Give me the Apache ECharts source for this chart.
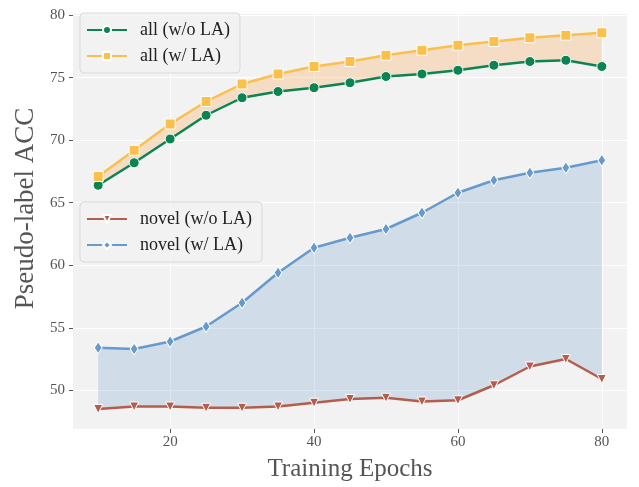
<!DOCTYPE html>
<html>
<head>
<meta charset="utf-8">
<script src="https://cdn.jsdelivr.net/npm/echarts@6/dist/echarts.min.js"></script>
<style>
  html, body { margin: 0; padding: 0; background: #fff; }
  #chart { width: 639px; height: 487px; }
</style>
</head>
<body>
<div id="chart"></div>
<script>
// 训练轮次
const epochs = [10, 15, 20, 25, 30, 35, 40, 45, 50, 55, 60, 65, 70, 75, 80]
const allWo = [66.4, 68.2, 70.1, 72.0, 73.4, 73.9, 74.2, 74.6, 75.1, 75.3, 75.6, 76.0, 76.3, 76.4, 75.9]
const allW = [67.1, 69.2, 71.3, 73.1, 74.5, 75.3, 75.9, 76.3, 76.8, 77.2, 77.6, 77.9, 78.2, 78.4, 78.6]
const novelWo = [48.5, 48.7, 48.7, 48.6, 48.6, 48.7, 49.0, 49.3, 49.4, 49.1, 49.2, 50.4, 51.9, 52.5, 50.9]
const novelW = [53.4, 53.3, 53.9, 55.1, 57.0, 59.4, 61.4, 62.2, 62.9, 64.2, 65.8, 66.8, 67.4, 67.8, 68.4]
const xTicks = [20, 40, 60, 80]
const yTicks = [50, 55, 60, 65, 70, 75, 80]

const pairs = (arr) => arr.map((v, i) => [epochs[i], v])

const font = 'Liberation Serif'
const chart = echarts.init(document.getElementById('chart'))

const lineSeries = (name, data, color, symbol, size, rotate) => ({
  name,
  type: 'line',
  data: pairs(data),
  symbol,
  symbolSize: size,
  symbolRotate: rotate || 0,
  showAllSymbol: true,
  z: 5,
  lineStyle: { color, width: 2.5 },
  itemStyle: { color, borderColor: '#fff', borderWidth: 1 }
})

// 两条线之间的填充带
const band = (hi, lo, color) => ({
  type: 'custom',
  silent: true,
  z: 1,
  clip: true,
  data: [[epochs[0], lo[0]]],
  renderItem: (params, api) => {
    const upper = epochs.map((e, i) => api.coord([e, hi[i]]))
    const lower = epochs.map((e, i) => api.coord([e, lo[i]])).reverse()
    return {
      type: 'polygon',
      shape: { points: upper.concat(lower) },
      style: { fill: color }
    }
  }
})

const legendBase = {
  orient: 'vertical',
  backgroundColor: 'rgba(242,242,242,0.85)',
  borderColor: '#d9d9d9',
  borderWidth: 1,
  borderRadius: 4,
  padding: [8, 10, 8, 6],
  itemWidth: 40,
  itemHeight: 10,
  itemGap: 8,
  textStyle: { fontFamily: font, fontSize: 18, color: '#222', padding: [0, 0, 0, 8] }
}

chart.setOption({
  backgroundColor: '#fff',
  animation: false,
  grid: { left: 73, right: 12, top: 14, bottom: 57, show: true, backgroundColor: '#f2f2f2', borderWidth: 0 },
  legend: [
    Object.assign({}, legendBase, { left: 80, top: 13, data: ['all (w/o LA)', 'all (w/ LA)'] }),
    Object.assign({}, legendBase, { left: 80, top: 202, data: ['novel (w/o LA)', 'novel (w/ LA)'] })
  ],
  xAxis: {
    type: 'value',
    min: 6.5,
    max: 83.5,
    name: 'Training Epochs',
    nameLocation: 'middle',
    nameGap: 28,
    nameTextStyle: { fontFamily: font, fontSize: 25, color: '#555' },
    axisLine: { show: false },
    axisTick: { show: true, length: 4, customValues: xTicks, lineStyle: { color: '#555' } },
    axisLabel: { customValues: xTicks, fontFamily: font, fontSize: 15, color: '#555', margin: 6 },
    splitLine: { show: true, lineStyle: { color: '#fff', width: 1 } }
  },
  yAxis: {
    type: 'value',
    min: 46.9,
    max: 80.1,
    name: 'Pseudo-label ACC',
    nameLocation: 'middle',
    nameGap: 33,
    nameTextStyle: { fontFamily: font, fontSize: 27, color: '#555', padding: [0, 0, 0, 26] },
    axisLine: { show: false },
    axisTick: { show: true, length: 4, customValues: yTicks, lineStyle: { color: '#555' } },
    axisLabel: { customValues: yTicks, fontFamily: font, fontSize: 15, color: '#555', margin: 8 },
    splitLine: { show: true, lineStyle: { color: '#fff', width: 1 } }
  },
  series: [
    band(allW, allWo, 'rgba(250,190,130,0.4)'),
    band(novelW, novelWo, 'rgba(102,153,204,0.24)'),
    lineSeries('all (w/o LA)', allWo, '#0b8452', 'circle', 10),
    lineSeries('all (w/ LA)', allW, '#fbc04c', 'rect', 10),
    lineSeries('novel (w/o LA)', novelWo, '#b55d4c', 'triangle', 9, 180),
    lineSeries('novel (w/ LA)', novelW, '#6699cc', 'diamond', [8, 12])
  ]
})

window.onresize = function () {
  chart.resize()
}
</script>
</body>
</html>
